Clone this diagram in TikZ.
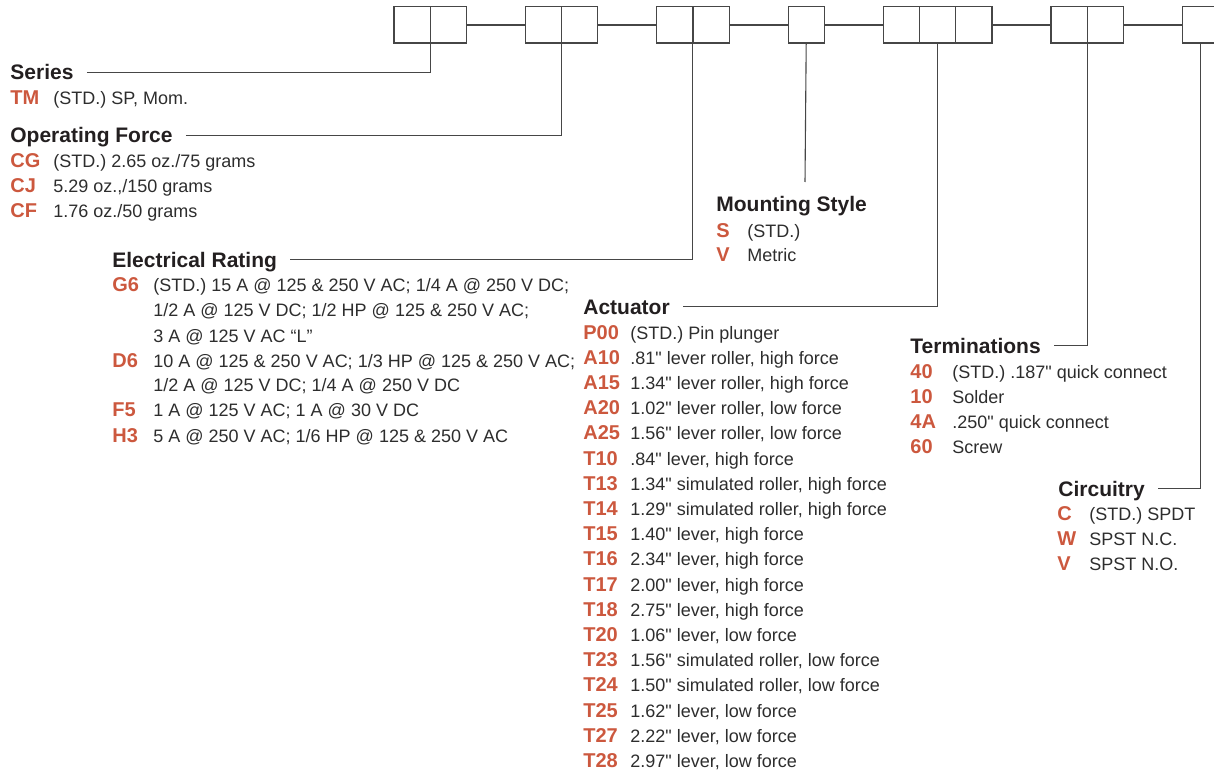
\documentclass[tikz,border=0pt]{standalone}
\usepackage{fontspec}
\usepackage{array}
\setmainfont{Liberation Sans}[Ligatures=TeXOff]
\usetikzlibrary{positioning}
\definecolor{mytext}{RGB}{45,45,45}
\definecolor{myhead}{RGB}{35,31,32}
\definecolor{mycode}{RGB}{204,88,62}
\definecolor{myline}{RGB}{70,70,70}
\newcommand{\codefont}{\leavevmode\fontsize{10}{12.5}\selectfont\bfseries\color{mycode}}

\begin{document}
\begin{tikzpicture}[x=0.5pt, y=-0.5pt,
    cell/.style={draw=myline, line width=0.6pt, minimum size=18.1pt, inner sep=0pt, outer sep=0pt},
    head/.style={anchor=base west, inner sep=0pt, text height=7.5pt, text depth=0pt,
      font=\fontsize{10.5}{12.5}\selectfont\bfseries, text=myhead},
    list/.style={anchor=base west, inner sep=0pt, font=\fontsize{9}{12.5}\selectfont, text=mytext},
    lead/.style={draw=myline, line width=0.55pt}]
    \useasboundingbox (0,0) rectangle (1214,770);

    % Bestellschluessel
    \node[cell] (b11) at (412,25) {};
    \node[cell, right=0pt of b11] (b12) {};
    \node[cell, right=29.5pt of b12] (b21) {};
    \node[cell, right=0pt of b21] (b22) {};
    \node[cell, right=29.5pt of b22] (b31) {};
    \node[cell, right=0pt of b31] (b32) {};
    \node[cell, right=29.5pt of b32] (b41) {};
    \node[cell, right=29.5pt of b41] (b51) {};
    \node[cell, right=0pt of b51] (b52) {};
    \node[cell, right=0pt of b52] (b53) {};
    \node[cell, right=29.5pt of b53] (b61) {};
    \node[cell, right=0pt of b61] (b62) {};
    \node[cell, right=29.5pt of b62] (b71) {};

    \draw[lead] (b12) -- (b21);
    \draw[lead] (b22) -- (b31);
    \draw[lead] (b32) -- (b41);
    \draw[lead] (b41) -- (b51);
    \draw[lead] (b53) -- (b61);
    \draw[lead] (b62) -- (b71);

    % Ueberschriften
    \node[head] (hser) at (10,80) {Series};
    \node[head] (hforce) at (10,143) {Operating Force};
    \node[head] (hrate) at (112,267) {Electrical Rating};
    \node[head] (hmnt) at (716,212) {Mounting Style};
    \node[head] (hact) at (583,314) {Actuator};
    \node[head] (hterm) at (910,353) {Terminations};
    \node[head] (hcirc) at (1058,496) {Circuitry};

    \coordinate (mnt) at (805,182);
    \draw[lead] ([xshift=6.5pt]hser.east) -| (b11.south east);
    \draw[lead] ([xshift=6.5pt]hforce.east) -| (b21.south east);
    \draw[lead] ([xshift=6.5pt]hrate.east) -| (b31.south east);
    \draw[lead] (b41.south) -- (mnt);
    \draw[lead] ([xshift=6.5pt]hact.east) -| (b52.south);
    \draw[lead] ([xshift=6.5pt]hterm.east) -| (b61.south east);
    \draw[lead] ([xshift=6.5pt]hcirc.east) -| (b71.south);

    % Listen
    \node[list] (lser) at (10,105) {\begin{tabular}[t]{@{}>{\codefont}p{21.5pt}@{}l@{}}
        TM & (STD.) SP, Mom.
    \end{tabular}};
    \node[list] (lforce) at (10,168) {\begin{tabular}[t]{@{}>{\codefont}p{21.5pt}@{}l@{}}
        CG & (STD.) 2.65 oz./75 grams\\
        CJ & 5.29 oz.,/150 grams\\
        CF & 1.76 oz./50 grams
    \end{tabular}};
    \node[list] (lrate) at (112,292) {\begin{tabular}[t]{@{}>{\codefont}p{20.5pt}@{}l@{}}
        G6 & (STD.) 15 A @ 125 \& 250 V AC; 1/4 A @ 250 V DC;\\
           & 1/2 A @ 125 V DC; 1/2 HP @ 125 \& 250 V AC;\\
           & 3 A @ 125 V AC “L”\\
        D6 & 10 A @ 125 \& 250 V AC; 1/3 HP @ 125 \& 250 V AC;\\
           & 1/2 A @ 125 V DC; 1/4 A @ 250 V DC\\
        F5 & 1 A @ 125 V AC; 1 A @ 30 V DC\\
        H3 & 5 A @ 250 V AC; 1/6 HP @ 125 \& 250 V AC
    \end{tabular}};
    \node[list, font=\fontsize{9}{12.25}\selectfont] (lmnt) at (716,237) {\begin{tabular}[t]{@{}>{\codefont}p{15.5pt}@{}l@{}}
        S & (STD.)\\
        V & Metric
    \end{tabular}};
    \node[list, font=\fontsize{9}{12.6}\selectfont] (lact) at (583,339) {\begin{tabular}[t]{@{}>{\codefont}p{23.5pt}@{}l@{}}
        P00 & (STD.) Pin plunger\\
        A10 & .81" lever roller, high force\\
        A15 & 1.34" lever roller, high force\\
        A20 & 1.02" lever roller, low force\\
        A25 & 1.56" lever roller, low force\\
        T10 & .84" lever, high force\\
        T13 & 1.34" simulated roller, high force\\
        T14 & 1.29" simulated roller, high force\\
        T15 & 1.40" lever, high force\\
        T16 & 2.34" lever, high force\\
        T17 & 2.00" lever, high force\\
        T18 & 2.75" lever, high force\\
        T20 & 1.06" lever, low force\\
        T23 & 1.56" simulated roller, low force\\
        T24 & 1.50" simulated roller, low force\\
        T25 & 1.62" lever, low force\\
        T27 & 2.22" lever, low force\\
        T28 & 2.97" lever, low force
    \end{tabular}};
    \node[list, font=\fontsize{9}{12.6}\selectfont] (lterm) at (910,378) {\begin{tabular}[t]{@{}>{\codefont}p{21pt}@{}l@{}}
        40 & (STD.) .187" quick connect\\
        10 & Solder\\
        4A & .250" quick connect\\
        60 & Screw
    \end{tabular}};
    \node[list] (lcirc) at (1057,520) {\begin{tabular}[t]{@{}>{\codefont}p{16pt}@{}l@{}}
        C & (STD.) SPDT\\
        W & SPST N.C.\\
        V & SPST N.O.
    \end{tabular}};
\end{tikzpicture}
\end{document}
